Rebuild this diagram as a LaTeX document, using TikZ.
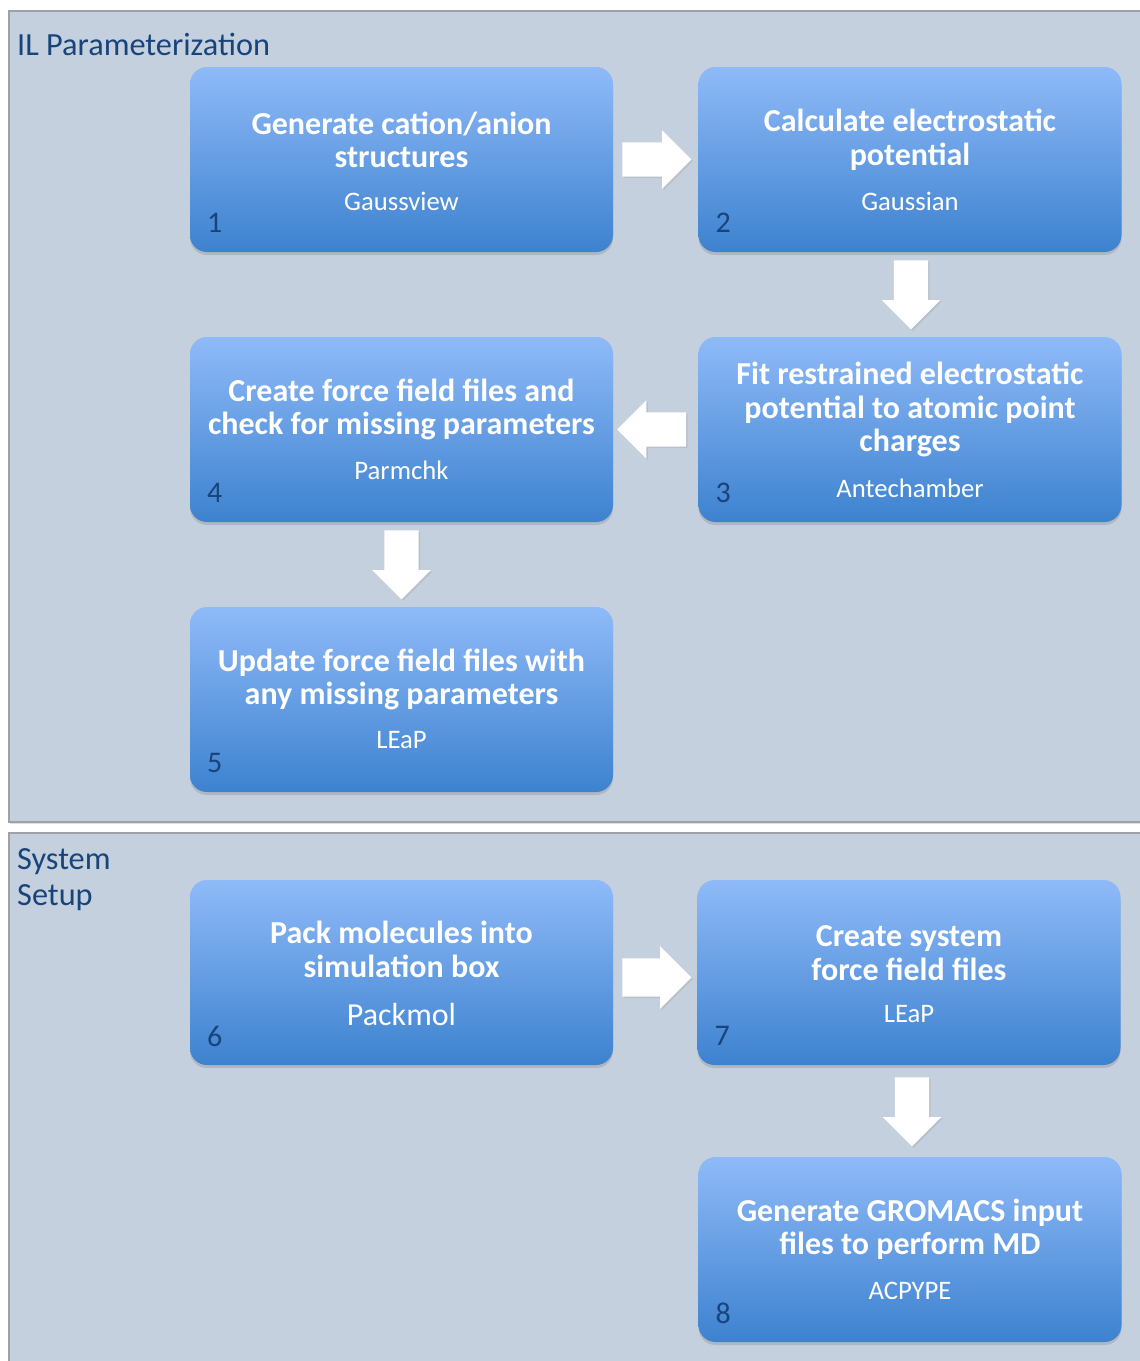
\documentclass[tikz,border=0pt]{standalone}
\usepackage{fontspec}
\setmainfont{Carlito}
\usetikzlibrary{calc,shapes.arrows,shadows}

\begin{document}
\begin{tikzpicture}[x = 1pt, y = -1pt]

  % FRAME
  \useasboundingbox (0,0) rectangle (1140,1361);
  \fill[white] (0,0) rectangle (1140,1361);
  \clip (0,0) rectangle (1140,1361);


  % COLORS
  \definecolor{panelcolor}{RGB}{197,208,222}
  \definecolor{paneledge}{RGB}{158,162,168}
  \definecolor{boxtop}{RGB}{143,186,248}
  \definecolor{boxbottom}{RGB}{61,130,207}
  \definecolor{labelcolor}{RGB}{24,68,124}


  % STYLES
  \tikzstyle{panelstyle} = [fill=panelcolor, draw=paneledge, line width=1.2pt, drop shadow={shadow xshift=1pt, shadow yshift=-1.5pt, opacity=0.25}]
  \tikzstyle{paneltitle} = [text=labelcolor, font=\fontsize{32.3}{36}\selectfont, inner sep=0pt, align=left]
  \tikzstyle{stepbox} = [rounded corners=17pt, minimum width=423pt, minimum height=185pt, inner sep=0pt, top color=boxtop, bottom color=boxbottom, draw=none, drop shadow={shadow xshift=0pt, shadow yshift=-3pt, opacity=0.3}]
  \tikzstyle{steptext} = [text=white, font=\bfseries\fontsize{32}{33.5}\selectfont, align=center, inner sep=0pt]
  \tikzstyle{tooltext} = [text=white, font=\fontsize{26.7}{30}\selectfont, inner sep=0pt]
  \tikzstyle{stepnum} = [text=labelcolor, font=\fontsize{30}{30}\selectfont, inner sep=0pt]
  \tikzstyle{blockarrow} = [single arrow, anchor=tail, fill=white, draw=none, inner sep=17pt, minimum height=69pt, minimum width=58pt, single arrow head extend=12pt, drop shadow={shadow xshift=1.5pt, shadow yshift=-1.5pt, opacity=0.2}]


  % PANELS
  \draw[panelstyle] (9,11) rectangle (1160,822);
  \draw[panelstyle] (9,833) rectangle (1160,1380);
  \node[paneltitle, anchor=west] (p1) at (17,44) {IL Parameterization};
  \node[paneltitle, anchor=west] (p2) at (17,880) {System\\Setup};


  % DEF POINTS
  \coordinate (c1) at (401.5,159.5);
  \coordinate (c2) at (910,159.5);
  \coordinate (c3) at (910,429.5);
  \coordinate (c4) at (401.5,429.5);
  \coordinate (c5) at (401.5,699.5);
  \coordinate (c6) at (401.5,972.5);
  \coordinate (c7) at (909,972.5);
  \coordinate (c8) at (910,1249.5);


  % BOXES
  \foreach \i in {1,...,8}
    \node[stepbox] (b\i) at (c\i) {};


  % TEXTS
  \node[steptext] (t1) at ($(c1)+(0,-19.5)$) {Generate cation/anion\\structures};
  \node[tooltext] (s1) at ($(c1)+(0,41.5)$) {Gaussview};

  \node[steptext] (t2) at ($(c2)+(0,-19.5)$) {Calculate electrostatic\\potential};
  \node[tooltext] (s2) at ($(c2)+(0,41.5)$) {Gaussian};

  \node[steptext] (t3) at ($(c3)+(0,-20)$) {Fit restrained electrostatic\\potential to atomic point\\charges};
  \node[tooltext] (s3) at ($(c3)+(0,58.5)$) {Antechamber};

  \node[steptext] (t4) at ($(c4)+(0,-20)$) {Create force field files and\\check for missing parameters};
  \node[tooltext] (s4) at ($(c4)+(0,40.5)$) {Parmchk};

  \node[steptext] (t5) at ($(c5)+(0,-20)$) {Update force field files with\\any missing parameters};
  \node[tooltext] (s5) at ($(c5)+(0,40.5)$) {LEaP};

  \node[steptext] (t6) at ($(c6)+(0,-23)$) {Pack molecules into\\simulation box};
  \node[tooltext, font=\fontsize{32}{32}\selectfont] (s6) at ($(c6)+(0,41.5)$) {Packmol};

  \node[steptext] (t7) at ($(c7)+(0,-19.5)$) {Create system\\force field files};
  \node[tooltext] (s7) at ($(c7)+(0,41.5)$) {LEaP};

  \node[steptext] (t8) at ($(c8)+(0,-20)$) {Generate GROMACS input\\files to perform MD};
  \node[tooltext] (s8) at ($(c8)+(0,41.5)$) {ACPYPE};


  % NUMBERS
  \foreach \i in {1,...,8}
    \node[stepnum] (n\i) at ($(b\i.south west)+(25,-29)$) {\i};


  % ARROWS
  \node[blockarrow] (a12) at ($(b1.east)+(9,0)$) {};
  \node[blockarrow, shape border rotate=270] (a23) at ($(b2.south)+(1,8)$) {};
  \node[blockarrow, shape border rotate=180] (a34) at ($(b3.west)+(-12,0)$) {};
  \node[blockarrow, shape border rotate=270] (a45) at ($(b4.south)+(0,8)$) {};
  \node[blockarrow, inner sep=19pt] (a67) at ($(b6.east)+(9,5)$) {};
  \node[blockarrow, shape border rotate=270] (a78) at ($(b7.south)+(3,12)$) {};

\end{tikzpicture}
\end{document}
